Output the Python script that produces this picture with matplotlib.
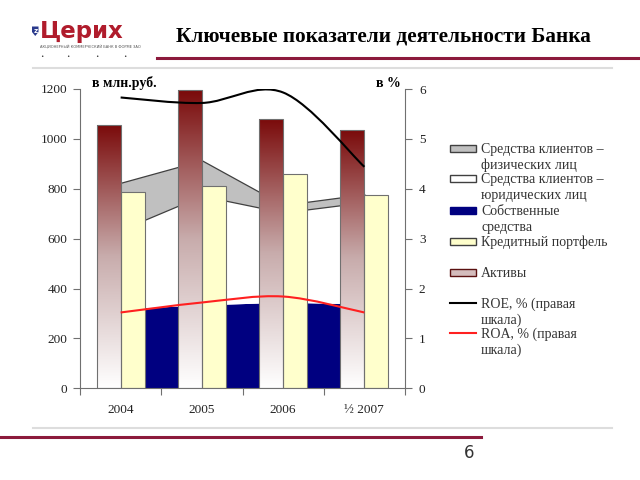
import numpy as np
import matplotlib
matplotlib.use("Agg")
import matplotlib.pyplot as plt
from matplotlib.path import Path
from matplotlib.patches import PathPatch, Rectangle, Polygon
from matplotlib.lines import Line2D
from matplotlib.colors import LinearSegmentedColormap

# values
years = ['2004', '2005', '2006', '½ 2007']
assets = [1056, 1194, 1081, 1037]          # Активы
loans = [786, 813, 860, 774]               # Кредитный портфель
own_funds = [317, 332, 343, 336]           # Собственные средства
legal_clients = [318, 440, 362, 410]       # Средства клиентов – юр. лиц
phys_clients = [189, 142, 30, 32]          # Средства клиентов – физ. лиц
roe = [5.83, 5.72, 5.93, 4.44]             # ROE, %
roa = [1.52, 1.72, 1.84, 1.52]             # ROA, %

plt.rcParams['font.family'] = ['Liberation Serif', 'DejaVu Serif']

W, H = 640, 480
BAR_W = 0.295
EDGE = '#707070'
assets_cmap = LinearSegmentedColormap.from_list(
    'assets', [(0, '#ffffff'), (0.5, '#c8acac'), (1, '#7a0a0a')])


def fx(x):
    return x / W


def fy(y):
    return 1 - y / H


def smooth_path(xs, ys):
    # bezier path through the points, like excel's smoothed line
    pts = list(zip(xs, ys))
    n = len(pts)
    verts = [pts[0]]
    codes = [Path.MOVETO]
    for i in range(n - 1):
        p0 = pts[i - 1] if i > 0 else pts[i]
        p1 = pts[i]
        p2 = pts[i + 1]
        p3 = pts[i + 2] if i + 2 < n else pts[i + 1]
        c1 = (p1[0] + (p2[0] - p0[0]) / 6, p1[1] + (p2[1] - p0[1]) / 6)
        c2 = (p2[0] - (p3[0] - p1[0]) / 6, p2[1] - (p3[1] - p1[1]) / 6)
        verts += [c1, c2, p2]
        codes += [Path.CURVE4] * 3
    return Path(verts, codes)


fig = plt.figure(figsize=(6.4, 4.8), dpi=100)
ax = fig.add_axes([fx(80), fy(388.3), fx(405 - 80), (388.3 - 89) / H])

xs = np.arange(len(years))
own = np.array(own_funds)
legal_top = own + np.array(legal_clients)
phys_top = legal_top + np.array(phys_clients)

# stacked areas behind the bars
ax.fill_between(xs, 0, own, facecolor='#000080', edgecolor='none', zorder=1)
ax.fill_between(xs, own, legal_top, facecolor='white', edgecolor='none', zorder=1)
ax.fill_between(xs, legal_top, phys_top, facecolor='#c0c0c0',
                edgecolor='#404040', linewidth=0.9, zorder=1)

# assets bars with vertical gradient
grad = np.linspace(0, 1, 256).reshape(-1, 1)
for x, h in zip(xs, assets):
    rect = Rectangle((x - BAR_W, 0), BAR_W, h, facecolor='none',
                     edgecolor=EDGE, linewidth=0.8, zorder=3)
    ax.add_patch(rect)
    im = ax.imshow(grad, extent=[x - BAR_W, x, 0, h], origin='lower',
                   aspect='auto', cmap=assets_cmap, zorder=2)
    im.set_clip_path(rect)

ax.bar(xs + BAR_W / 2, loans, width=BAR_W, color='#ffffcc',
       edgecolor=EDGE, linewidth=0.8, zorder=2)

ax.set_xlim(-0.5, len(years) - 0.5)
ax.set_ylim(0, 1200)
ax.set_yticks(range(0, 1201, 200))
ax.set_xticks(np.arange(-0.5, len(years), 1.0))
ax.set_xticklabels([])
ax.set_xticks(xs, minor=True)
ax.set_xticklabels(years, minor=True)
ax.tick_params(axis='x', which='major', direction='out', length=5, color=EDGE)
ax.tick_params(axis='x', which='minor', length=0, pad=11, labelsize=9.5,
               labelcolor='#222222')
ax.tick_params(axis='y', direction='out', length=5, color=EDGE, pad=4,
               labelsize=9.5, labelcolor='#222222')
for side in ['left', 'bottom']:
    ax.spines[side].set_color(EDGE)
ax.spines['top'].set_visible(False)
ax.spines['right'].set_visible(False)

# right scale lines
ax2 = ax.twinx()
ax2.add_patch(PathPatch(smooth_path(xs, roe), facecolor='none',
                        edgecolor='black', linewidth=1.5))
ax2.add_patch(PathPatch(smooth_path(xs, roa), facecolor='none',
                        edgecolor='#ff2020', linewidth=1.5))
ax2.set_ylim(0, 6)
ax2.set_yticks(range(0, 7))
ax2.tick_params(axis='y', direction='out', length=5, color=EDGE, pad=5,
                labelsize=9.5, labelcolor='#222222')
ax2.spines['right'].set_color(EDGE)
for side in ['top', 'left', 'bottom']:
    ax2.spines[side].set_visible(False)

fig.text(fx(92), fy(83.5), 'в млн.руб.', fontsize=10, fontweight='bold',
         va='center', ha='left')
fig.text(fx(401), fy(83.5), 'в %', fontsize=10, fontweight='bold',
         va='center', ha='right')

# legend drawn by hand
leg = [
    ('patch', '#c0c0c0', '#404040', 148, ['Средства клиентов –', 'физических лиц']),
    ('patch', 'white', '#404040', 179, ['Средства клиентов –', 'юридических лиц']),
    ('patch', '#000080', '#000080', 210.5, ['Собственные', 'средства']),
    ('patch', '#ffffcc', '#404040', 241.5, ['Кредитный портфель']),
    ('patch', '#d4bcbc', '#5a1010', 272.5, ['Активы']),
    ('line', 'black', None, 303, ['ROE, % (правая', 'шкала)']),
    ('line', '#ff2020', None, 333, ['ROA, % (правая', 'шкала)']),
]
for kind, fc, ec, y, lines in leg:
    if kind == 'patch':
        fig.add_artist(Rectangle((fx(450), fy(y + 3.5)), 26 / W, 7 / H,
                                 facecolor=fc, edgecolor=ec, linewidth=1,
                                 transform=fig.transFigure))
    else:
        fig.add_artist(Line2D([fx(450), fx(476)], [fy(y), fy(y)], color=fc,
                              linewidth=1.5, transform=fig.transFigure))
    for k, t in enumerate(lines):
        fig.text(fx(481), fy(y + 1 + k * 16), t, fontsize=10,
                 va='center', ha='left', color='#333333')

# header
fig.text(fx(383), fy(36.5), 'Ключевые показатели деятельности Банка',
         fontsize=15.3, fontweight='bold', ha='center', va='center')
fig.add_artist(Line2D([fx(157), 1], [fy(58.3), fy(58.3)], color='#8c1a3c',
                      linewidth=2.2, transform=fig.transFigure))
fig.add_artist(Line2D([fx(33), fx(612)], [fy(67.5), fy(67.5)], color='#dddddd',
                      linewidth=1.5, transform=fig.transFigure))

# logo
shield = [(32, 26.5), (38.5, 26.5), (38.5, 32), (35.25, 36), (32, 32)]
fig.add_artist(Polygon([(fx(a), fy(b)) for a, b in shield], closed=True,
                       facecolor='#2a3a8c', edgecolor='none',
                       transform=fig.transFigure))
fig.text(fx(35.3), fy(31), 'z', fontsize=5, color='white', ha='center',
         va='center', family='DejaVu Sans', fontweight='bold')
fig.text(fx(39.5), fy(31.5), 'Церих', fontsize=16.5, fontweight='bold',
         color='#b01c2c', ha='left', va='center', family='DejaVu Sans')
fig.text(fx(40), fy(47.7), 'АКЦИОНЕРНЫЙ КОММЕРЧЕСКИЙ БАНК В ФОРМЕ ЗАО',
         fontsize=2.6, color='#555555', ha='left', va='center',
         family='DejaVu Sans')
for dx in [42, 68, 97, 125]:
    fig.text(fx(dx), fy(56.7), '•', fontsize=4, color='#333333',
             ha='center', va='center', family='DejaVu Sans')

# footer
fig.add_artist(Line2D([fx(33), fx(612)], [fy(427.5), fy(427.5)], color='#dddddd',
                      linewidth=1.5, transform=fig.transFigure))
fig.add_artist(Line2D([0, fx(481)], [fy(437), fy(437)], color='#8c1a3c',
                      linewidth=2.2, transform=fig.transFigure))
fig.text(fx(469), fy(453), '6', fontsize=12, color='#333333', ha='center',
         va='center', family='DejaVu Sans')

fig.savefig('out.png', dpi=100)
